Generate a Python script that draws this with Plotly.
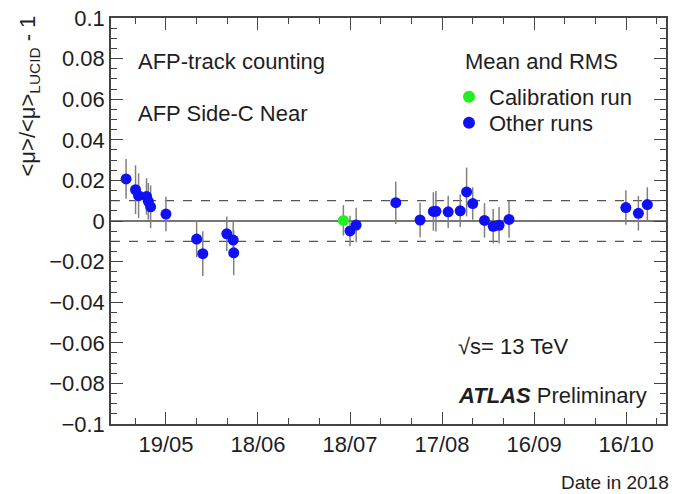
import plotly.graph_objects as go

# ---------------- data ----------------
calib_dates = ["2018-07-15 20:00"]
calib_values = [0.0003]
calib_rms = [0.0075]

other_dates = [
    "2018-05-06 00:00", "2018-05-09 02:00", "2018-05-10 02:00", "2018-05-12 16:00",
    "2018-05-13 06:00", "2018-05-14 00:00", "2018-05-19 00:00", "2018-05-29 00:00",
    "2018-05-31 00:00", "2018-06-07 20:00", "2018-06-09 22:00", "2018-06-10 02:00",
    "2018-07-18 00:00", "2018-07-20 00:00", "2018-08-01 22:00", "2018-08-09 20:00",
    "2018-08-14 04:00", "2018-08-15 00:00", "2018-08-19 00:00", "2018-08-22 22:00",
    "2018-08-25 00:00", "2018-08-27 00:00", "2018-08-30 20:00", "2018-09-02 16:00",
    "2018-09-04 14:00", "2018-09-07 20:00", "2018-10-15 22:00", "2018-10-20 00:00",
    "2018-10-22 22:00",
]
other_values = [
    0.0207, 0.0154, 0.0125, 0.0121, 0.0097, 0.0070, 0.0034, -0.0089,
    -0.0161, -0.0063, -0.0094, -0.0157, -0.0049, -0.0020, 0.0090, 0.0005,
    0.0047, 0.0048, 0.0045, 0.0050, 0.0143, 0.0086, 0.0003, -0.0026,
    -0.0021, 0.0008, 0.0066, 0.0038, 0.0081,
]
other_rms = [
    0.0098, 0.0120, 0.0110, 0.0090, 0.0090, 0.0105, 0.0085, 0.0090,
    0.0110, 0.0085, 0.0090, 0.0110, 0.0075, 0.0085, 0.0105, 0.0085,
    0.0095, 0.0100, 0.0080, 0.0080, 0.0120, 0.0080, 0.0085, 0.0085,
    0.0090, 0.0090, 0.0085, 0.0085, 0.0085,
]

x_tick_vals = ["2018-05-19", "2018-06-18", "2018-07-18", "2018-08-17", "2018-09-16", "2018-10-16"]
x_tick_text = ["19/05", "18/06", "18/07", "17/08", "16/09", "16/10"]
x_range = ["2018-05-01 02:00", "2018-10-29 00:00"]

y_tick_vals = [0.1, 0.08, 0.06, 0.04, 0.02, 0, -0.02, -0.04, -0.06, -0.08, -0.1]
y_tick_text = ["0.1", "0.08", "0.06", "0.04", "0.02", "0", "\u22120.02", "\u22120.04",
               "\u22120.06", "\u22120.08", "\u22120.1"]
y_range = [-0.1, 0.1]

zero_line = 0.0
band_lines = [0.01, -0.01]

# ---------------- figure ----------------
FONT = "Liberation Sans, Arial, sans-serif"
TXT = "#1e1e1e"
FS = 22

fig = go.Figure()

fig.add_trace(go.Scatter(
    x=calib_dates, y=calib_values, mode="markers", name="Calibration run",
    marker=dict(color="#22ee22", size=11), legend="legend",
    error_y=dict(type="data", array=calib_rms, color="#808080", thickness=1.5, width=0),
))
fig.add_trace(go.Scatter(
    x=other_dates, y=other_values, mode="markers", name="Other runs",
    marker=dict(color="#1010f5", size=11), legend="legend2",
    error_y=dict(type="data", array=other_rms, color="#808080", thickness=1.5, width=0),
))

shapes = [dict(type="line", xref="paper", x0=0, x1=1, yref="y", y0=zero_line, y1=zero_line,
               line=dict(color="#777777", width=2), layer="below")]
for b in band_lines:
    shapes.append(dict(type="line", xref="paper", x0=0, x1=1, yref="y", y0=b, y1=b,
                       line=dict(color="#555555", width=1.3, dash="dash"), layer="below"))

annotations = [
    dict(text="AFP-track counting", xref="paper", yref="paper", x=0.045, y=0.892,
         xanchor="left", yanchor="middle", showarrow=False, font=dict(size=FS, color=TXT)),
    dict(text="AFP Side-C Near", xref="paper", yref="paper", x=0.045, y=0.766,
         xanchor="left", yanchor="middle", showarrow=False, font=dict(size=FS, color=TXT)),
    dict(text="Mean and RMS", xref="paper", yref="paper", x=0.635, y=0.892,
         xanchor="left", yanchor="middle", showarrow=False, font=dict(size=FS, color=TXT)),
    dict(text="\u221As= 13 TeV", xref="paper", yref="paper", x=0.622, y=0.19,
         xanchor="left", yanchor="middle", showarrow=False, font=dict(size=FS, color=TXT)),
    dict(text="<b><i>ATLAS</i></b> Preliminary", xref="paper", yref="paper", x=0.622, y=0.069,
         xanchor="left", yanchor="middle", showarrow=False, font=dict(size=FS, color=TXT)),
    dict(text="&lt;\u03bc&gt;/&lt;\u03bc&gt;<sub>LUCID</sub> - 1", xref="paper", yref="paper",
         x=-0.148, y=1.012, xanchor="center", yanchor="top", textangle=-90,
         showarrow=False, font=dict(size=22, color=TXT)),
    dict(text="Date in 2018", xref="paper", yref="paper", x=1.009, y=-0.143,
         xanchor="right", yanchor="middle", showarrow=False, font=dict(size=19, color=TXT)),
]

axis_common = dict(showline=True, linecolor="#444444", linewidth=1.5, mirror="allticks",
                   ticks="inside", tickcolor="#444444", tickwidth=1.2, showgrid=False,
                   zeroline=False, automargin=False, tickfont=dict(size=FS, color=TXT))

legend_common = dict(font=dict(size=FS, color=TXT), xanchor="left", yanchor="top",
                     bgcolor="rgba(0,0,0,0)", itemsizing="constant")

fig.update_layout(
    width=677, height=494,
    margin=dict(l=111, r=11, t=18, b=70, autoexpand=False),
    paper_bgcolor="white", plot_bgcolor="white",
    font=dict(family=FONT, color=TXT),
    showlegend=True,
    legend=dict(x=0.609, y=0.857, **legend_common),
    legend2=dict(x=0.609, y=0.793, **legend_common),
    xaxis=dict(type="date", range=x_range, tickmode="array", tickvals=x_tick_vals,
               ticktext=x_tick_text, ticklen=12,
               minor=dict(dtick=10 * 86400000, tick0="2018-05-19", ticklen=6,
                          ticks="inside", tickcolor="#444444", tickwidth=1.2, showgrid=False),
               **axis_common),
    yaxis=dict(range=y_range, tickmode="array", tickvals=y_tick_vals, ticktext=y_tick_text,
               ticklen=12,
               minor=dict(dtick=0.005, tick0=0, ticklen=6, ticks="inside",
                          tickcolor="#444444", tickwidth=1.2, showgrid=False),
               **axis_common),
    shapes=shapes,
    annotations=annotations,
)

# remove the default 8px page margin so the figure sits at the window's corner
fig.write_html("out.html", config={"displayModeBar": False},
               post_script="document.body.style.margin='0';")
